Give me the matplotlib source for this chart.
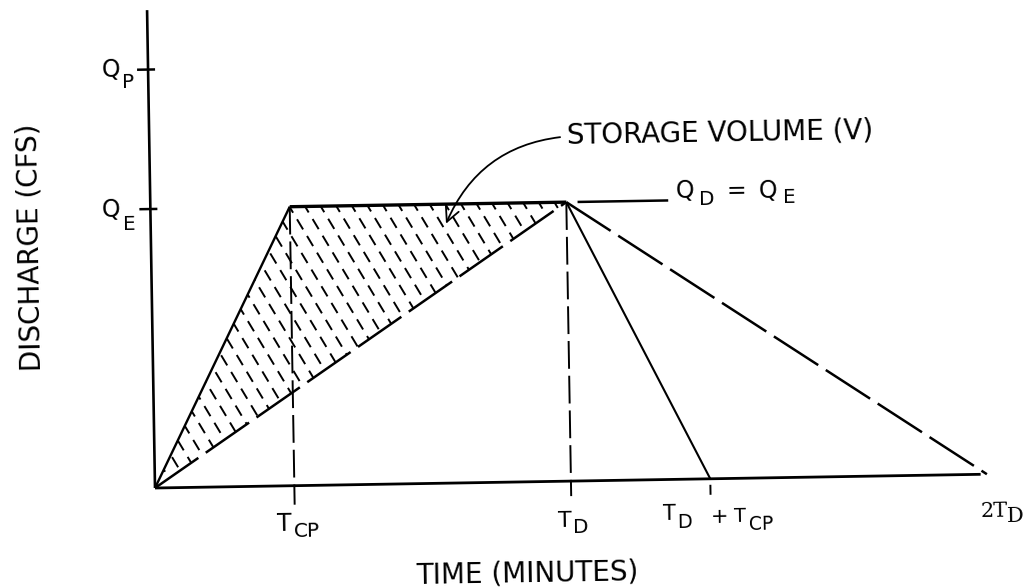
import numpy as np
import matplotlib
matplotlib.use("Agg")
import matplotlib.pyplot as plt
from matplotlib.transforms import Affine2D
from matplotlib.patches import Polygon

plt.rcParams['font.family'] = ['DejaVu Sans']
plt.rcParams['lines.scale_dashes'] = False

# ---------------- data (time in units of T_D, discharge in units of Q_E) ----
t_cp = 0.335
t_d = 1.0
q_e = 1.0
q_p = 1.5
y_axis_top = 1.713
x_axis_end = 1.985

inflow_t = [0.0, t_cp, t_d, t_d + t_cp]
inflow_q = [0.0, q_e, q_e, 0.0]
outflow_t = [0.0, t_d, 2 * t_d]
outflow_q = [0.0, q_e, 0.0]
storage_t = [0.0, t_cp, t_d]
storage_q = [0.0, q_e, q_e]
y_ticks = [q_p, q_e]
storage_arrow_tip = (0.71, 0.93)
qd_leader_t = [1.027, 1.245]

# ---------------- layout ----------------
W, H = 1030, 587
PX_X, PX_Y = 416.0, 279.0       # pixels per data unit
OX, OY = 155.0, 99.0            # origin in display pixels
ANGLE = 0.95                    # scan tilt (degrees)
XMAX, YMAX = 2.1, 1.75

fig = plt.figure(figsize=(W / 100, H / 100), dpi=100)
ax = fig.add_axes([OX / W, OY / H, XMAX * PX_X / W, YMAX * PX_Y / H])
ax.set_xlim(0, XMAX)
ax.set_ylim(0, YMAX)
ax.axis('off')

rot = ax.transData + Affine2D().rotate_deg_around(OX, OY, ANGLE)
K = 'black'

def line(x, y, lw, dashes=None, **kw):
    l, = ax.plot(x, y, color=K, lw=lw, transform=rot, clip_on=False,
                 solid_capstyle='butt', dash_capstyle='butt', **kw)
    if dashes is not None:
        l.set_dashes(dashes)
    return l

# axes
line([0, 0], [0, y_axis_top], 1.9)
line([0, x_axis_end], [0, 0], 2.0)
for yt in y_ticks:
    line([-11 / PX_X, 7 / PX_X], [yt, yt], 1.8)

# inflow hydrograph (solid trapezoid)
line(inflow_t[:2], inflow_q[:2], 1.7)
line(inflow_t[1:3], inflow_q[1:3], 2.4)
line(inflow_t[2:], inflow_q[2:], 1.5)
# outflow hydrograph (long dashes)
line(outflow_t[:2], outflow_q[:2], 1.8, dashes=(38, 6.5))
line(outflow_t[1:], outflow_q[1:], 1.8, dashes=(38, 6.5))
# vertical guides
line([t_cp, t_cp], [q_e, -19 / PX_Y], 1.4, dashes=(20, 5))
line([t_d, t_d], [q_e, -15 / PX_Y], 1.4, dashes=(20, 5))
line([t_d + t_cp] * 2, [-6 / PX_Y, -16 / PX_Y], 1.4)
# Q_D = Q_E leader
line(qd_leader_t, [q_e, q_e], 1.8)

# storage hatch (dashed diagonal strokes clipped to the storage triangle)
poly = Polygon(list(zip(storage_t, storage_q)), closed=True, transform=rot,
               facecolor='none', edgecolor='none')
ax.add_patch(poly)
d = np.array([0.5, -0.866])
n = np.array([0.866, 0.5])
for c in np.arange(-10, 520, 13.5):
    t0 = (c * n[1] - 300) / 0.866
    t1 = (c * n[1] + 20) / 0.866
    p0 = c * n + t0 * d
    p1 = c * n + t1 * d
    l = line([p0[0] / PX_X, p1[0] / PX_X], [p0[1] / PX_Y, p1[1] / PX_Y], 1.4,
             dashes=(8.5, 5.5))
    l.set_clip_path(poly)
    l.set_clip_on(True)

# ---------------- text ----------------
def put(anchor, dx, dy, s, size, ha='left', va='baseline', family=None):
    kw = dict(family=family) if family else {}
    ax.annotate(s, xy=anchor, xycoords=rot, xytext=(dx, dy),
                textcoords='offset pixels', ha=ha, va=va, fontsize=size,
                rotation=ANGLE, annotation_clip=False, **kw)

# y tick labels
put((0, q_p), -28, -7, 'Q', 17, ha='right')
put((0, q_p), -26, -18, 'P', 14.5)
put((0, q_e), -30, -8, 'Q', 17, ha='right')
put((0, q_e), -28, -21, 'E', 14.5)
# x tick labels
put((t_cp, 0), -10, -45, 'T', 17, ha='center')
put((t_cp, 0), -1, -51, 'CP', 14.5)
put((t_d, 0), -6, -46, 'T', 16, ha='center')
put((t_d, 0), 2, -52, 'D', 14.5)
put((t_d + t_cp, 0), -41, -41, 'T', 15, ha='center')
put((t_d + t_cp, 0), -33, -49, 'D', 14)
put((t_d + t_cp, 0), 9, -38, '+', 15, ha='center', va='center')
put((t_d + t_cp, 0), 30, -43, 'T', 14, ha='center')
put((t_d + t_cp, 0), 38, -51, 'CP', 13.5)
put((2 * t_d, 0), -7, -43, '2T', 15, family='DejaVu Serif')
put((2 * t_d, 0), 20, -48, 'D', 15, family='DejaVu Serif')
# Q_D = Q_E
anc = (qd_leader_t[1], q_e)
put(anc, 7, 2, 'Q', 17)
put(anc, 31, -5, 'D', 14.5)
put(anc, 68, 10, '=', 17, ha='center', va='center')
put(anc, 90, 2, 'Q', 17)
put(anc, 115, -3, 'E', 14.5)

# storage volume annotation
ax.annotate('STORAGE VOLUME (V)', xy=storage_arrow_tip, xycoords=rot,
            xytext=(121, 80), textcoords='offset pixels', ha='left',
            va='baseline', fontsize=20, rotation=ANGLE, annotation_clip=False,
            arrowprops=dict(arrowstyle='->,head_length=0.5,head_width=0.25',
                            connectionstyle='arc3,rad=0.3', color=K, lw=1.3,
                            relpos=(0, 0.4), shrinkA=3, shrinkB=0))

# axis titles
fig.text(30 / W, 1 - 247 / H, 'DISCHARGE (CFS)', rotation=90 + ANGLE,
         ha='center', va='center', fontsize=20)
fig.text(527 / W, 1 - 583 / H, 'TIME (MINUTES)', rotation=ANGLE,
         ha='center', va='baseline', fontsize=20)

fig.savefig('out.png', dpi=100, facecolor='white')
